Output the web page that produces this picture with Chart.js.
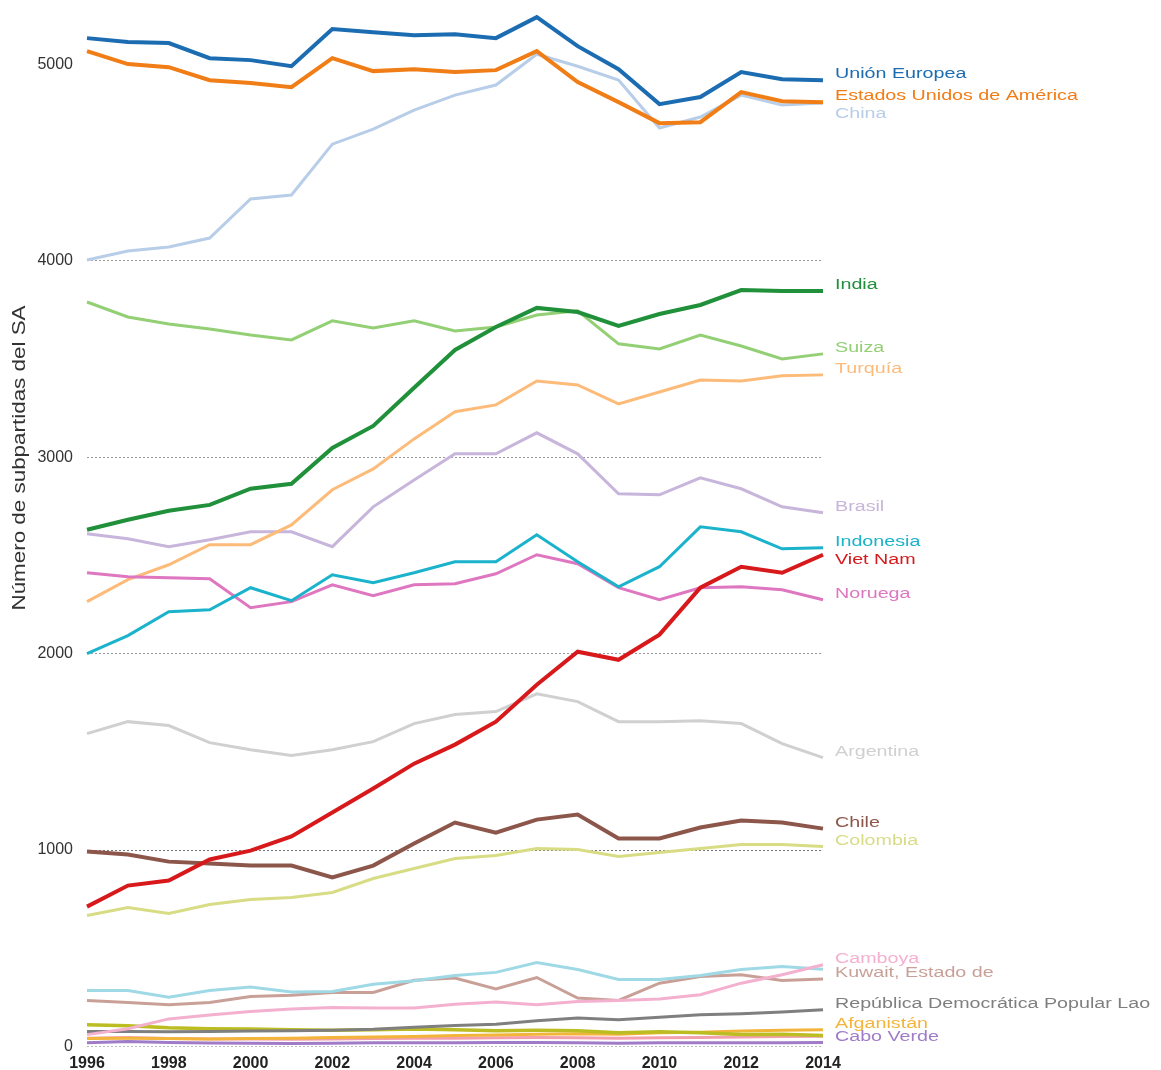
<!DOCTYPE html>
<html>
<head>
<meta charset="utf-8">
<script src="https://cdn.jsdelivr.net/npm/chart.js@4"></script>
<style>
  html, body { margin: 0; padding: 0; background: #fff; }
  #wrap { width: 1161px; height: 1070px; }
</style>
</head>
<body>
<div id="wrap"><canvas id="subpartidasChart" width="1161" height="1070"></canvas></div>
<script>
// años y valores
const years = ['1996','1997','1998','1999','2000','2001','2002','2003','2004','2005','2006','2007','2008','2009','2010','2011','2012','2013','2014'];
const yTicks = [0, 1000, 2000, 3000, 4000, 5000];

const unionEuropea = [5135,5115,5110,5033,5023,4992,5181,5165,5150,5155,5135,5242,5094,4977,4799,4835,4962,4926,4921];
const estadosUnidos = [5069,5003,4987,4921,4906,4885,5033,4967,4977,4962,4972,5069,4911,4809,4702,4707,4860,4814,4809];
const china = [4005,4051,4071,4117,4316,4336,4595,4672,4768,4845,4896,5053,4992,4921,4677,4733,4845,4794,4804];
const india = [2631,2682,2728,2758,2840,2865,3048,3160,3354,3547,3664,3761,3740,3669,3730,3776,3852,3847,3847];
const suiza = [3791,3715,3679,3654,3623,3598,3695,3659,3695,3644,3664,3725,3746,3578,3552,3623,3567,3501,3527];
const turquia = [2265,2377,2453,2555,2555,2656,2835,2941,3094,3232,3267,3389,3369,3272,3333,3394,3389,3415,3420];
const brasil = [2611,2585,2545,2580,2621,2621,2545,2748,2885,3018,3018,3125,3018,2814,2809,2896,2840,2748,2718];
const indonesia = [2000,2092,2214,2224,2336,2270,2402,2361,2412,2468,2468,2606,2468,2341,2443,2646,2621,2534,2539];
const vietNam = [712,819,845,952,997,1069,1191,1313,1440,1537,1654,1842,2010,1969,2097,2336,2443,2412,2504];
const noruega = [2412,2392,2387,2382,2234,2265,2351,2295,2351,2356,2407,2504,2458,2336,2275,2336,2341,2326,2275];
const argentina = [1593,1654,1634,1547,1511,1481,1511,1552,1644,1690,1705,1796,1756,1654,1654,1659,1644,1542,1471];
const chile = [992,977,941,931,921,921,860,921,1033,1140,1089,1155,1181,1059,1059,1115,1150,1140,1109];
const colombia = [667,707,677,723,748,758,784,855,906,957,972,1008,1003,967,987,1008,1028,1028,1018];
const camboya = [60,90,140,160,178,190,198,196,195,215,226,212,229,234,241,263,322,365,416];
const cianClaro = [285,285,251,285,302,277,280,317,334,361,377,427,392,341,341,361,392,407,393];
const kuwait = [234,224,212,224,254,261,275,275,337,348,293,351,246,234,322,356,365,336,343];
const lao = [76,76,74,76,78,80,82,87,97,107,113,131,144,136,149,161,166,175,187];
const afganistan = [40,42,40,38,40,42,45,48,50,55,58,62,65,62,70,72,78,82,85];
const oliva = [110,105,95,90,88,85,82,85,88,85,80,82,80,70,75,70,60,62,55];
const salmon = [42,45,40,38,38,36,38,40,42,42,44,45,44,42,44,45,48,50,52];
const caboVerde = [18,25,20,17,16,15,16,18,18,18,20,20,18,16,18,18,18,18,20];

function serie(label, data, color, width) {
    return {
        label: label,
        data: data,
        borderColor: color,
        backgroundColor: color,
        borderWidth: width || 3,
        pointRadius: 0,
        tension: 0,
        fill: false,
        clip: false
    };
}

const datasets = [
    serie('Unión Europea', unionEuropea, '#1c6cb1', 4),
    serie('Estados Unidos de América', estadosUnidos, '#f07d16', 4),
    serie('India', india, '#20903a', 4),
    serie('Viet Nam', vietNam, '#d7191c', 4),
    serie('Chile', chile, '#8c564b', 4),
    serie('Indonesia', indonesia, '#1ab3cb', 3),
    serie('Noruega', noruega, '#de77c0', 3),
    serie('Suiza', suiza, '#93cf74', 3),
    serie('Turquía', turquia, '#fdbb7a', 3),
    serie('Brasil', brasil, '#c8b5db', 3),
    serie('China', china, '#b8cde8', 3),
    serie('Argentina', argentina, '#d0d0d0', 3),
    serie('Colombia', colombia, '#d8dc85', 3),
    serie('Camboya', camboya, '#f4b0cf', 3),
    serie('', cianClaro, '#9fd9e6', 3),
    serie('Kuwait, Estado de', kuwait, '#c9a097', 3),
    serie('República Democrática Popular Lao', lao, '#7f7f7f', 3),
    serie('', oliva, '#bcbd22', 3.5),
    serie('Afganistán', afganistan, '#f3b43a', 3),
    serie('', salmon, '#f2a0b0', 3),
    serie('Cabo Verde', caboVerde, '#a07cc8', 3)
];

const FUENTE = '"Liberation Sans", Arial, sans-serif';

// etiquetas a la derecha de cada línea
const etiquetasFinales = {
    id: 'etiquetasFinales',
    afterDatasetsDraw(chart) {
        const ctx = chart.ctx;
        const area = chart.chartArea;
        const y = chart.scales.y;
        const items = [];
        chart.data.datasets.forEach(function (ds) {
            if (!ds.label) return;
            const last = ds.data[ds.data.length - 1];
            items.push({ text: ds.label, color: ds.borderColor, y: y.getPixelForValue(last) - 6 });
        });
        // separar las etiquetas grandes para que no se monten
        const grandes = items.filter(function (it) { return it.y < 900; }).sort(function (a, b) { return a.y - b.y; });
        for (let i = 1; i < grandes.length; i++) {
            if (grandes[i].y < grandes[i - 1].y + 18) grandes[i].y = grandes[i - 1].y + 18;
        }
        ctx.save();
        ctx.font = '15.5px ' + FUENTE;
        ctx.textBaseline = 'middle';
        ctx.textAlign = 'left';
        items.forEach(function (it) {
            ctx.save();
            ctx.translate(area.right + 12, it.y);
            ctx.scale(1.27, 1);
            ctx.fillStyle = it.color;
            ctx.fillText(it.text, 0, 0);
            ctx.restore();
        });
        // título del eje Y
        ctx.translate(20, 458);
        ctx.rotate(-Math.PI / 2);
        ctx.scale(1.28, 1);
        ctx.textAlign = 'center';
        ctx.fillStyle = '#333';
        ctx.font = '17.5px ' + FUENTE;
        ctx.fillText('Número de subpartidas del SA', 0, 0);
        ctx.restore();
    }
};

document.addEventListener('DOMContentLoaded', function () {
    const ctx = document.getElementById('subpartidasChart');
    new Chart(ctx, {
        type: 'line',
        data: { labels: years, datasets: datasets },
        plugins: [etiquetasFinales],
        options: {
            responsive: false,
            animation: false,
            layout: { padding: { top: 10, right: 338, left: 0, bottom: 0 } },
            plugins: { legend: { display: false }, tooltip: { enabled: false } },
            scales: {
                x: {
                    offset: false,
                    grid: { display: false, drawTicks: false },
                    border: { display: false },
                    ticks: {
                        autoSkip: false,
                        maxRotation: 0,
                        padding: 8,
                        color: '#222',
                        font: { family: FUENTE, size: 16, weight: 'bold' },
                        callback: function (val, i) { return i % 2 === 0 ? years[i] : ''; }
                    },
                    afterFit: function (scale) { scale.height = 23; }
                },
                y: {
                    min: 0,
                    max: 5209,
                    afterBuildTicks: function (scale) {
                        scale.ticks = yTicks.map(function (v) { return { value: v }; });
                    },
                    grid: {
                        drawTicks: false,
                        lineWidth: 1,
                        color: function (c) {
                            const v = c.tick && c.tick.value;
                            if (v === 5000 || v === undefined) return 'rgba(0,0,0,0)';
                            if (v === 1000) return '#777';
                            if (v === 0) return '#bbb';
                            return '#999';
                        }
                    },
                    border: { display: false, dash: [2, 2] },
                    ticks: {
                        padding: 14,
                        color: '#333',
                        font: { family: FUENTE, size: 16 },
                        callback: function (v) { return String(v); }
                    },
                    afterFit: function (scale) { scale.width = 87; }
                }
            }
        }
    });
});
</script>
</body>
</html>
